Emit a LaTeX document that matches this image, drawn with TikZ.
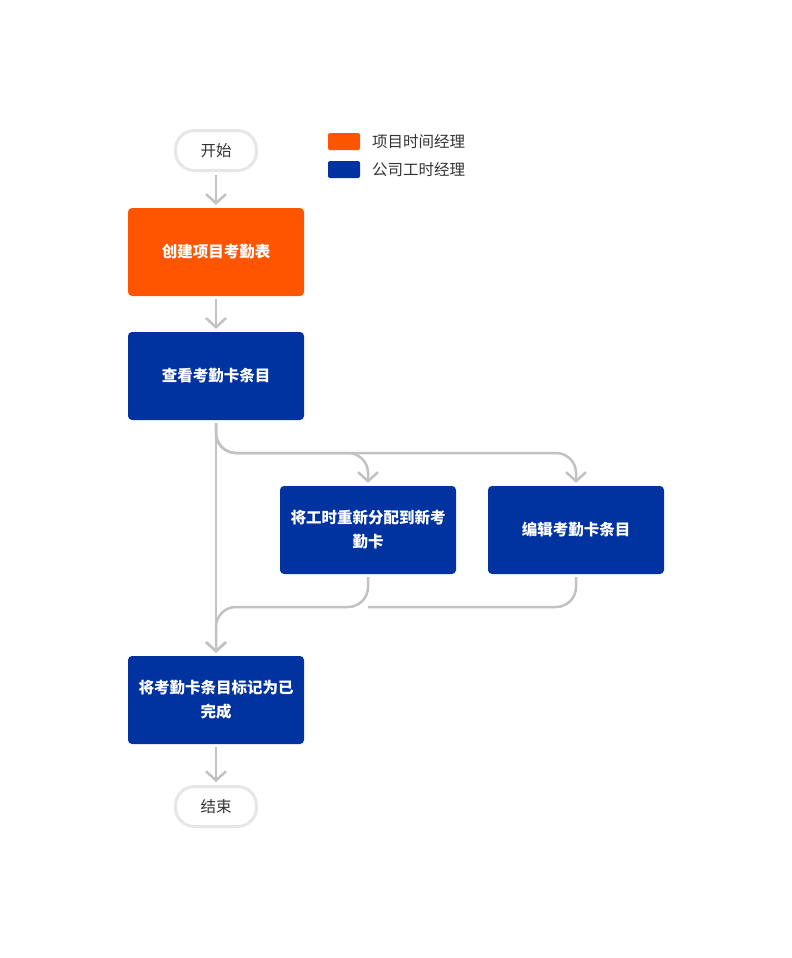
\documentclass[tikz,border=0pt]{standalone}
\usepackage{fontspec}
\setmainfont{Noto Sans CJK SC}
\usetikzlibrary{arrows.meta}
\definecolor{pmorange}{HTML}{FF5500}
\definecolor{tsblue}{HTML}{0033A0}
\definecolor{linkgray}{HTML}{C2C2C2}
\definecolor{pillgray}{HTML}{E6E6E6}
\definecolor{labelgray}{HTML}{333333}
\tikzset{
  txt/.style={font=\fontsize{15.5pt}{24pt}\selectfont},
  terminal/.style={txt, draw=pillgray, line width=3pt, fill=white, rounded corners=19pt,
    minimum width=81pt, minimum height=40pt, inner sep=0pt, text=labelgray},
  task/.style={txt, rounded corners=4pt, minimum width=176pt, minimum height=88pt,
    inner sep=0pt, text=white, align=center, font=\fontsize{15.5pt}{24pt}\selectfont\bfseries},
  pmtask/.style={task, fill=pmorange},
  tstask/.style={task, fill=tsblue},
  swatch/.style={rounded corners=2pt, minimum width=32pt, minimum height=17pt, inner sep=0pt},
  legendtext/.style={txt, anchor=west, text=labelgray, inner sep=0pt},
  flow/.style={draw=linkgray, line width=2.5pt, rounded corners=20pt,
    -{Straight Barb[length=9pt, width=20pt, line width=2.5pt]},
    shorten <=3pt, shorten >=3pt},
  plain/.style={draw=linkgray, line width=2.5pt, rounded corners=20pt, shorten <=3pt},
}
\begin{document}
\begin{tikzpicture}[x=1pt, y=-1pt]
  \useasboundingbox (0,0) rectangle (792,958);

  % legend
  \node[swatch, fill=pmorange] (lgorange) at (344,141.5) {};
  \node[legendtext] (lgorangetxt) at (372,142) {项目时间经理};
  \node[swatch, fill=tsblue] (lgblue) at (344,169.5) {};
  \node[legendtext] (lgbluetxt) at (372,170) {公司工时经理};

  % flow nodes
  \node[terminal] (start) at (216,150.5) {开始};
  \node[pmtask] (create) at (216,252) {创建项目考勤表};
  \node[tstask] (view) at (216,376) {查看考勤卡条目};
  \node[tstask] (reassign) at (368,530) {将工时重新分配到新考\\勤卡};
  \node[tstask] (edit) at (576,530) {编辑考勤卡条目};
  \node[tstask] (mark) at (216,700) {将考勤卡条目标记为已\\完成};
  \node[terminal] (end) at (216,806.5) {结束};

  % split and merge points
  \coordinate (split) at (216,453);
  \coordinate (merge) at (216,607);

  % connectors
  \draw[flow] (start) -- (create);
  \draw[flow] (create) -- (view);
  \draw[flow] (view.south) -- (mark.north);
  \draw[flow] (view.south) -- (split) -- (split -| reassign) -- (reassign.north);
  \draw[flow] (view.south) -- (split) -- (split -| edit) -- (edit.north);
  \draw[flow] (reassign.south) -- (merge -| reassign) -- (merge) -- (mark.north);
  \draw[plain] (edit.south) -- (merge -| edit) -- (merge -| reassign);
  \draw[flow] (mark) -- (end);
\end{tikzpicture}
\end{document}
